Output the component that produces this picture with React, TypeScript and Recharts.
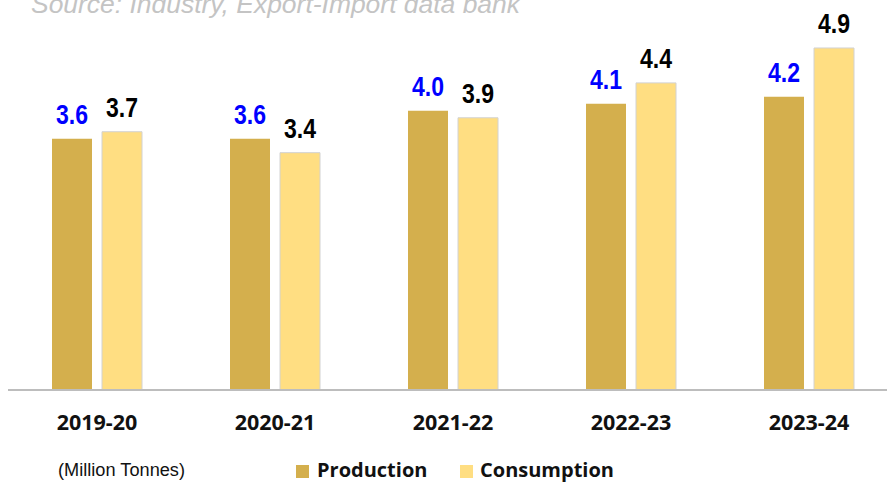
import React from 'react';
import { BarChart, Bar, XAxis, YAxis, LabelList, Legend } from 'recharts';

const years = ['2019-20', '2020-21', '2021-22', '2022-23', '2023-24'];
const production = [3.6, 3.6, 4.0, 4.1, 4.2];
const consumption = [3.7, 3.4, 3.9, 4.4, 4.9];

const data = years.map((year, i) => ({ year, production: production[i], consumption: consumption[i] }));

const PROD_COLOR = '#D4AF4D';
const CONS_COLOR = '#FFDE82';

const makeLabel = (color: string) => (props: any) => {
  const { x, y, width, value } = props;
  return (
    <text
      x={Number(x) + Number(width) / 2}
      y={Number(y) - 15}
      textAnchor="middle"
      fontFamily="'Liberation Sans', Arial, sans-serif"
      fontWeight={700}
      fontSize={28}
      fill={color}
      textLength={32}
      lengthAdjust="spacingAndGlyphs"
    >
      {Number(value).toFixed(1)}
    </text>
  );
};

const Tick = (props: any) => {
  const { x, y, payload } = props;
  return (
    <text
      x={x}
      y={y + 40}
      textAnchor="middle"
      fontFamily="'Open Sans', sans-serif"
      fontWeight={700}
      fontSize={21.5}
      fill="#111"
    >
      {payload.value}
    </text>
  );
};

const Overlay = () => (
  <svg width={887} height={484} style={{ position: 'absolute', left: 0, top: 0, overflow: 'visible' }}>
    <text x={31} y={13} fontFamily="'Liberation Sans', Arial, sans-serif" fontStyle="italic" fontSize={26} fill="#c4c4c4" textLength={489} lengthAdjust="spacingAndGlyphs">
      Source: Industry, Export-Import data bank
    </text>
    <text x={58} y={476} fontFamily="'Liberation Sans', Arial, sans-serif" fontSize={18} fill="#111" textLength={127} lengthAdjust="spacingAndGlyphs">
      (Million Tonnes)
    </text>
    <rect x={296} y={465} width={13} height={13} fill={PROD_COLOR} />
    <text x={317} y={477} fontFamily="'Open Sans', sans-serif" fontWeight={700} fontSize={20} fill="#111">
      Production
    </text>
    <rect x={460} y={465} width={13} height={13} fill={CONS_COLOR} />
    <text x={480} y={477} fontFamily="'Open Sans', sans-serif" fontWeight={700} fontSize={20} fill="#111">
      Consumption
    </text>
  </svg>
);

export default function App() {
  return (
    <div style={{ position: 'fixed', left: 0, top: 0, width: 887, height: 484, overflow: 'hidden', background: '#fff' }}>
      <BarChart
        width={898}
        height={484}
        data={data}
        margin={{ top: 41, right: 0, left: 8, bottom: 44 }}
        barSize={40}
        barGap={10}
      >
        <XAxis
          dataKey="year"
          height={50}
          tickLine={false}
          tickSize={0}
          tickMargin={0}
          axisLine={{ stroke: '#bdbdbd', strokeWidth: 2 }}
          tick={<Tick />}
          interval={0}
        />
        <YAxis hide domain={[0, 5]} />
        <Legend
          layout="vertical"
          verticalAlign="middle"
          align="center"
          wrapperStyle={{ left: 0, top: 0, width: 887, height: 484, pointerEvents: 'none' }}
          content={() => <Overlay />}
        />
        <Bar dataKey="production" fill={PROD_COLOR} isAnimationActive={false}>
          <LabelList dataKey="production" content={makeLabel('#0000ff')} />
        </Bar>
        <Bar dataKey="consumption" fill={CONS_COLOR} stroke="#d2d2d2" strokeWidth={1} isAnimationActive={false}>
          <LabelList dataKey="consumption" content={makeLabel('#000000')} />
        </Bar>
      </BarChart>
    </div>
  );
}
